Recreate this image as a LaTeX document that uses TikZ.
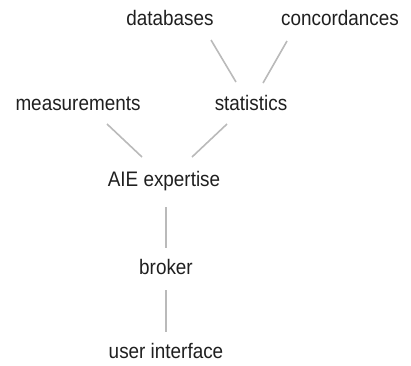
\documentclass[tikz,border=0pt]{standalone}
\usepackage{fontspec}
\setmainfont{Liberation Sans}[FakeStretch=0.9]

\begin{document}
\begin{tikzpicture}[x=1pt,y=-1pt,
  part node/.style={anchor=base,inner sep=0pt,font=\fontsize{21}{25}\selectfont,text=black!88},
  link/.style={draw=black!27,line width=1.6pt}]
  \useasboundingbox (0,0) rectangle (411,365);

  \node[part node] (db) at (170,25) {databases};
  \node[part node] (conc) at (340,25) {concordances};
  \node[part node] (meas) at (78,110) {measurements};
  \node[part node] (stat) at (251,110) {statistics};
  \node[part node] (aie) at (164,186) {AIE expertise};
  \node[part node] (brok) at (166,274) {broker};
  \node[part node] (ui) at (166,358) {user interface};
 \path[link]
 ([shift={(41,15)}]db.base) edge ([shift={(-15,-28)}]stat.base)
 ([shift={(-53,16)}]conc.base) edge ([shift={(12,-27)}]stat.base)
 ([shift={(29,14)}]meas.base) edge ([shift={(-22,-29)}]aie.base)
 ([shift={(-24,14)}]stat.base) edge ([shift={(28,-29)}]aie.base)
 ([shift={(2,21)}]aie.base) edge ([shift={(0,-26)}]brok.base)
 ([shift={(0,16)}]brok.base) edge ([shift={(0,-26)}]ui.base);
\end{tikzpicture}
\end{document}
